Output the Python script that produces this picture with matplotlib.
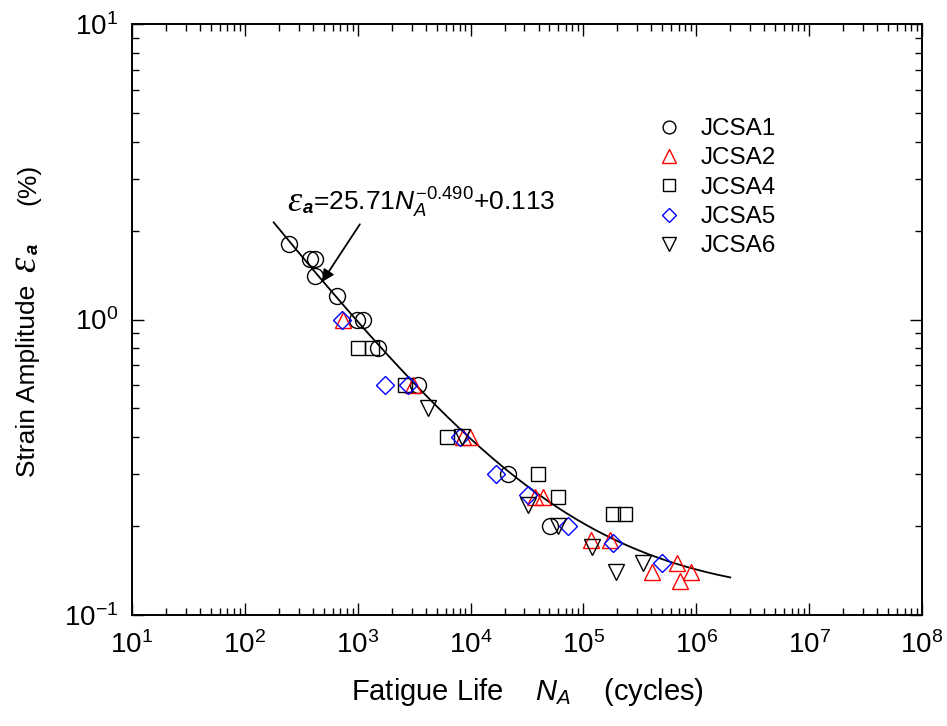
import numpy as np
import matplotlib
matplotlib.use("Agg")
import matplotlib.pyplot as plt
from matplotlib.ticker import LogLocator, NullFormatter
from matplotlib.transforms import IdentityTransform

plt.rcParams['font.family'] = ['Liberation Sans', 'DejaVu Sans']
plt.rcParams['mathtext.fontset'] = 'custom'
plt.rcParams['mathtext.rm'] = 'Liberation Sans'
plt.rcParams['mathtext.it'] = 'Liberation Sans:italic'
plt.rcParams['mathtext.bf'] = 'Liberation Sans:bold'
try:
    plt.rcParams['mathtext.bfit'] = 'Liberation Sans:bold:italic'
    BFA = r'\mathbfit{a}'
except KeyError:
    BFA = r'\mathbf{a}'
plt.rcParams['axes.unicode_minus'] = False

# ---- data ----
jcsa1_N = [246, 377, 418, 418, 655, 984, 1112, 1510, 3414, 21400, 50300]
jcsa1_e = [1.8, 1.6, 1.6, 1.4, 1.2, 1.0, 1.0, 0.8, 0.6, 0.3, 0.2]

jcsa2_N = [740, 3080, 8500, 9800, 37200, 43600, 116000, 171000, 404000, 672000, 714000, 894000]
jcsa2_e = [1.0, 0.6, 0.4, 0.4, 0.25, 0.25, 0.18, 0.18, 0.14, 0.15, 0.13, 0.14]

jcsa4_N = [1000, 1337, 2620, 6170, 39400, 59300, 182000, 233000]
jcsa4_e = [0.8, 0.8, 0.6, 0.4, 0.3, 0.25, 0.22, 0.22]

jcsa5_N = [725, 1740, 2790, 8040, 16750, 32200, 72800, 182000, 494000]
jcsa5_e = [1.0, 0.6, 0.6, 0.4, 0.3, 0.255, 0.2, 0.175, 0.15]

jcsa6_N = [4190, 8370, 32200, 59300, 119000, 194000, 336000]
jcsa6_e = [0.5, 0.4, 0.236, 0.2, 0.17, 0.14, 0.15]

fit_A, fit_b, fit_c = 25.71, -0.490, 0.113
fit_range = (180, 2.0e6)

W, H = 947, 726
fig = plt.figure(figsize=(W/100, H/100), dpi=100)
ax = fig.add_axes([132/W, 1-615/H, (922-132)/W, (615-24)/H])

Nf = np.logspace(np.log10(fit_range[0]), np.log10(fit_range[1]), 300)
ax.plot(Nf, fit_A*Nf**fit_b + fit_c, color='black', lw=1.3, zorder=1)

mew = 1.0
ax.plot(jcsa1_N, jcsa1_e, 'o', ms=11.5, mfc='none', mec='black', mew=mew, label='JCSA1', zorder=3)
ax.plot(jcsa2_N, jcsa2_e, '^', ms=12, mfc='none', mec='red', mew=mew, label='JCSA2', zorder=3)
ax.plot(jcsa4_N, jcsa4_e, 's', ms=10, mfc='none', mec='black', mew=mew, label='JCSA4', zorder=3)
ax.plot(jcsa5_N, jcsa5_e, 'D', ms=9.5, mfc='none', mec='blue', mew=mew, label='JCSA5', zorder=3)
ax.plot(jcsa6_N, jcsa6_e, 'v', ms=12, mfc='none', mec='black', mew=mew, label='JCSA6', zorder=3)

ax.set_xscale('log')
ax.set_yscale('log')
ax.set_xlim(1e1, 1e8)
ax.set_ylim(1e-1, 1e1)

ax.xaxis.set_major_locator(LogLocator(base=10, numticks=20))
ax.yaxis.set_major_locator(LogLocator(base=10, numticks=20))
ax.xaxis.set_minor_locator(LogLocator(base=10, subs=np.arange(2, 10), numticks=20))
ax.yaxis.set_minor_locator(LogLocator(base=10, subs=np.arange(2, 10), numticks=20))
ax.xaxis.set_minor_formatter(NullFormatter())
ax.yaxis.set_minor_formatter(NullFormatter())

ax.tick_params(which='both', direction='in', top=True, right=True, width=1.0)
ax.tick_params(which='major', length=8.5, labelsize=20)
ax.tick_params(axis='x', which='major', pad=12)
ax.tick_params(axis='y', which='major', pad=10)
ax.tick_params(which='minor', length=5)
for s in ax.spines.values():
    s.set_linewidth(1.4)

ax.set_xlabel(r'Fatigue Life    $\mathit{N}_{\mathit{A}}$    (cycles)', fontsize=21, labelpad=12)

renderer = fig.canvas.get_renderer()
eps_font = dict(family='Liberation Serif', style='italic')


def chain(pieces, x0, y0, vertical=False):
    """Lay out text pieces one after another, in display pixels (origin top-left)."""
    pos = x0 if not vertical else y0
    for txt, kw, gap in pieces:
        if vertical:
            t = fig.text(x0, H - pos, txt, transform=IdentityTransform(), rotation=90,
                         rotation_mode='anchor', ha='left', va='baseline', **kw)
            bb = t.get_window_extent(renderer)
            pos = H - bb.y1 - gap
        else:
            t = fig.text(pos, H - y0, txt, transform=IdentityTransform(),
                         ha='left', va='baseline', **kw)
            bb = t.get_window_extent(renderer)
            pos = bb.x1 + gap


# y-axis label
chain([
    ('Strain Amplitude', dict(fontsize=19), 13),
    ('\u03b5', dict(fontsize=28, **eps_font), 1),
    (r'$_{' + BFA + r'}$', dict(fontsize=19), 38),
    ('(%)', dict(fontsize=19), 0),
], 35, 477, vertical=True)

# fit equation annotation
chain([
    ('\u03b5', dict(fontsize=26, **eps_font), 1),
    (r'$_{' + BFA + r'}$=25.71$\mathit{N}_{\mathit{A}}^{-0.490}$+0.113', dict(fontsize=19), 0),
], 287, 211)

ax.annotate('', xy=(482, 1.34), xytext=(1045, 2.10),
            arrowprops=dict(arrowstyle='-|>', color='black', lw=1.3, mutation_scale=18,
                            shrinkA=0, shrinkB=0))

leg = ax.legend(loc='upper left', bbox_to_anchor=(645/W, 1-106/H), bbox_transform=fig.transFigure,
                frameon=False, fontsize=17.5, numpoints=1, markerscale=0.8,
                handlelength=1.0, handletextpad=0.8, labelspacing=0.30, borderpad=0)

fig.savefig('out.png', dpi=100)
